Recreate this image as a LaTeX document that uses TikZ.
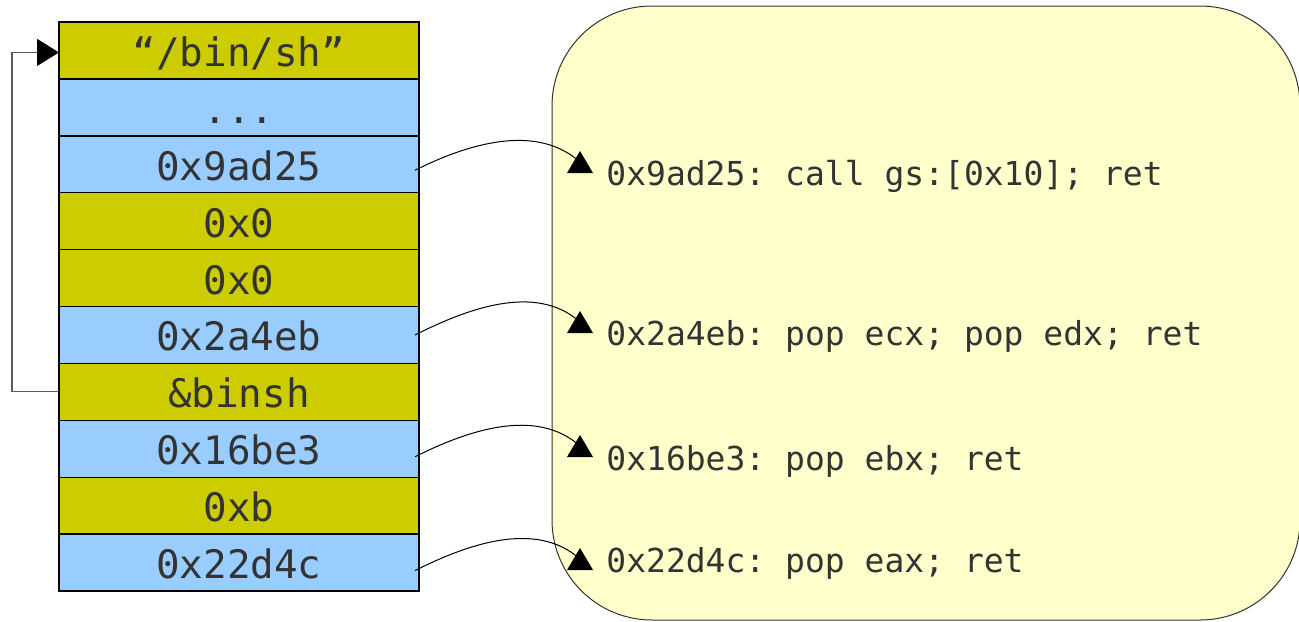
\documentclass[tikz,border=0pt]{standalone}
\usepackage{fontspec}
\setmonofont{DejaVu Sans Mono}
\usepackage{xcolor}
\usepackage{tikz}
\usetikzlibrary{arrows.meta,positioning,calc}
\definecolor{slotolive}{HTML}{CCCC00}
\definecolor{slotblue}{HTML}{99CCFF}
\definecolor{gadgetbg}{HTML}{FFFFCC}
\definecolor{inktext}{HTML}{333333}

\begin{document}
\begin{tikzpicture}[x=0.5pt,y=-0.5pt,
  slot/.style={draw,line width=0.7pt,outer sep=0pt,minimum width=180pt,minimum height=28.45pt,inner sep=0pt,
    text=inktext,font=\ttfamily\fontsize{19.6pt}{22pt}\selectfont,text height=16pt,text depth=0pt},
  data/.style={slot,fill=slotolive},
  addr/.style={slot,fill=slotblue},
  gadget/.style={anchor=base west,inner sep=0pt,text=inktext,font=\ttfamily\fontsize{16.5pt}{20pt}\selectfont},
  link/.style={line width=0.5pt},
  uptip/.pic={\fill (-13,11) -- (13,11) -- (0,-11) -- cycle;}]
\useasboundingbox (0,0) rectangle (1299,621);
% gadget area
\draw[fill=gadgetbg,draw=black!80,line width=0.5pt,rounded corners=50pt] (552,6) rectangle (1300,620);
% stack
\node[data] (binstr) at (239,50.45) {“/bin/sh”};
\node[addr,below=0pt of binstr] (dots) {...};
\node[addr,below=0pt of dots] (popcall) {0x9ad25};
\node[data,below=0pt of popcall] (zeroa) {0x0};
\node[data,below=0pt of zeroa] (zerob) {0x0};
\node[addr,below=0pt of zerob] (popcd) {0x2a4eb};
\node[data,below=0pt of popcd] (binsh) {\&binsh};
\node[addr,below=0pt of binsh] (popb) {0x16be3};
\node[data,below=0pt of popb] (sysno) {0xb};
\node[addr,below=0pt of sysno] (popa) {0x22d4c};
% gadgets
\node[gadget] (gcall) at (606,185) {0x9ad25: call gs:[0x10]; ret};
\node[gadget] (gcd) at (606,345) {0x2a4eb: pop ecx; pop edx; ret};
\node[gadget] (gb) at (606,470) {0x16be3: pop ebx; ret};
\node[gadget] (ga) at (606,572) {0x22d4c: pop eax; ret};
\coordinate (hcall) at (580,162);
\coordinate (hcd) at (580,322);
\coordinate (hb) at (580,446);
\coordinate (ha) at (580,559);
\draw[-{Triangle[length=11pt,width=13.5pt,color=black]},draw=black!65,line width=0.6pt]
  (binsh.west) -- ++(-47,0) |- ([yshift=-1pt]binstr.west);
\draw[link] ([xshift=-2pt,yshift=-3pt]popcall.east) .. controls +(50,-25) and +(-45,-40) .. (hcall);
\draw[link] ([xshift=-2pt]popcd.east) .. controls +(50,-25) and +(-45,-40) .. (hcd);
\draw[link] ([xshift=-2pt,yshift=-4pt]popb.east) .. controls +(50,-25) and +(-45,-40) .. (hb);
\draw[link] ([xshift=-2pt,yshift=-4pt]popa.east) .. controls +(50,-25) and +(-45,-40) .. (ha);
\pic at (hcall) {uptip};
\pic at (hcd) {uptip};
\pic at (hb) {uptip};
\pic at (ha) {uptip};
\end{tikzpicture}
\end{document}
